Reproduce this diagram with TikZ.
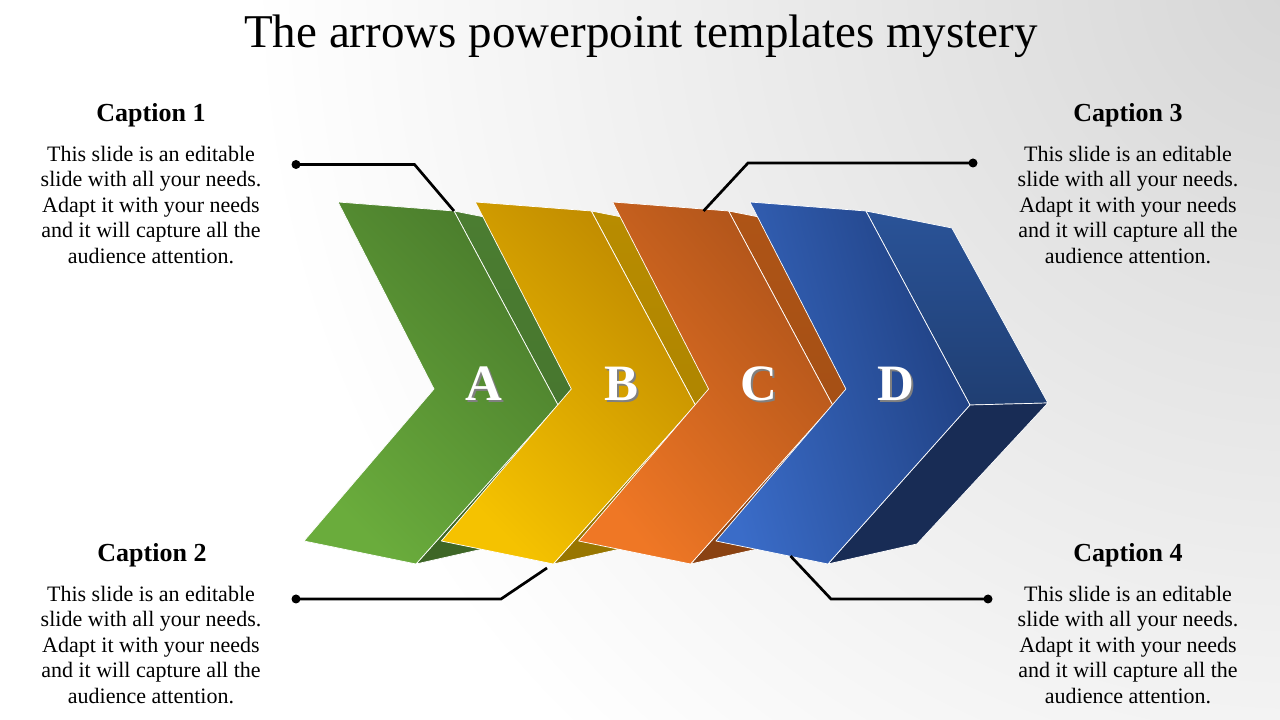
\documentclass[tikz,border=0pt]{standalone}
\usepackage{fontspec}
\setmainfont{Liberation Serif}
\usetikzlibrary{positioning}
\usepackage{xcolor}

\definecolor{grnFL}{HTML}{6AAC3C}
\definecolor{grnFD}{HTML}{4A7C2C}
\definecolor{grnU}{HTML}{4B7D31}
\definecolor{grnB}{HTML}{3E6626}
\definecolor{yelFL}{HTML}{F5C200}
\definecolor{yelFD}{HTML}{BF8A00}
\definecolor{yelU}{HTML}{B88C00}
\definecolor{yelB}{HTML}{987600}
\definecolor{orgFL}{HTML}{EF7725}
\definecolor{orgFD}{HTML}{AE531A}
\definecolor{orgU}{HTML}{AE5416}
\definecolor{orgB}{HTML}{8A4212}
\definecolor{bluFL}{HTML}{3A6CC8}
\definecolor{bluFD}{HTML}{1F3F80}
\definecolor{bluU}{HTML}{2A5398}
\definecolor{bluB}{HTML}{182C55}

\tikzset{
  face/.style={draw=white, line width=0.7pt, line join=round},
  lead/.style={line width=2.7pt, black},
  dot/.style={circle, fill=black, inner sep=0pt, minimum size=9pt},
  capt/.style={font=\bfseries\fontsize{26}{30}\selectfont, inner sep=0pt, anchor=base},
  body/.style={align=center, font=\fontsize{22}{25.5}\selectfont, inner sep=0pt, anchor=north},
  letter/.style={font=\bfseries\fontsize{51}{51}\selectfont, text=white, inner sep=0pt},
}

\begin{document}
\begin{tikzpicture}[x=1pt, y=1pt]
    \useasboundingbox (0,0) rectangle (1280,720);
    \fill[white] (0,0) rectangle (1280,720);
    \begin{scope}
        \clip (0,0) rectangle (1280,720);
        \shade[inner color=black!16, outer color=white] (1300,740) circle (1050);
    \end{scope}

    \node[anchor=base, inner sep=0pt, font=\fontsize{47}{50}\selectfont] (title) at (641,672) {The arrows powerpoint templates mystery};

    % chevrons, back to front
    \foreach \n/\cl/\cd/\cu/\cb/\ang/\fade [count=\i from 0] in {A/grnFL/grnFD/grnU/grnB/-45/95, B/yelFL/yelFD/yelU/yelB/-45/95, C/orgFL/orgFD/orgU/orgB/-50/95, D/bluFL/bluFD/bluU/bluB/-75/75} {
        \begin{scope}[xshift=\i*137.3]
            \shadedraw[top color=\cu, bottom color=\cu!\fade!black, face] (454,509) -- (540,492) -- (636,317) -- (558,315) -- cycle;
            \fill[\cb, face] (558,315) -- (636,317) -- (505,176) -- (416,156) -- cycle;
            \shadedraw[top color=\cd, bottom color=\cl, shading angle=\ang, face]
                (338,518) -- (454,509) -- (558,315) -- (416,156) -- (304,179) -- (434,331) -- cycle;
            \coordinate (\n-tr) at (454,509);
            \node[letter, text=black!50] (\n-sh) at (486,334) {\n};
            \node[letter] (\n-lt) at (484,336) {\n};
        \end{scope}
    }

    % connectors
    \node[dot] (d1) at (296,555.5) {};
    \node[dot] (d2) at (296,121) {};
    \node[dot] (d3) at (973,557) {};
    \node[dot] (d4) at (988,121) {};
    \coordinate (k1) at (414.5,555.5);
    \coordinate (k2) at (501,121);
    \coordinate (k3) at (748,557);
    \coordinate (k4) at (831,121);
    \coordinate (e2) at (547,152);
    \coordinate (e3) at (703.5,509);
    \coordinate (e4) at (790.5,164);
    \draw[lead] (d1.center) -- (k1) -- (A-tr);
    \draw[lead] (d2.center) -- (k2) -- (e2);
    \draw[lead] (d3.center) -- (k3) -- (e3);
    \draw[lead] (d4.center) -- (k4) -- (e4);

    % captions
    \node[capt] (cap1) at (151,598) {Caption 1};
    \node[capt] (cap2) at (152,158) {Caption 2};
    \node[capt] (cap3) at (1128,598) {Caption 3};
    \node[capt] (cap4) at (1128,158) {Caption 4};
    \node[body] (txt1) at (151,574) {This slide is an editable\\slide with all your needs.\\Adapt it with your needs\\and it will capture all the\\audience attention.};
    \node[body] (txt2) at (151,134) {This slide is an editable\\slide with all your needs.\\Adapt it with your needs\\and it will capture all the\\audience attention.};
    \node[body] (txt3) at (1128,574) {This slide is an editable\\slide with all your needs.\\Adapt it with your needs\\and it will capture all the\\audience attention.};
    \node[body] (txt4) at (1128,134) {This slide is an editable\\slide with all your needs.\\Adapt it with your needs\\and it will capture all the\\audience attention.};
\end{tikzpicture}
\end{document}
